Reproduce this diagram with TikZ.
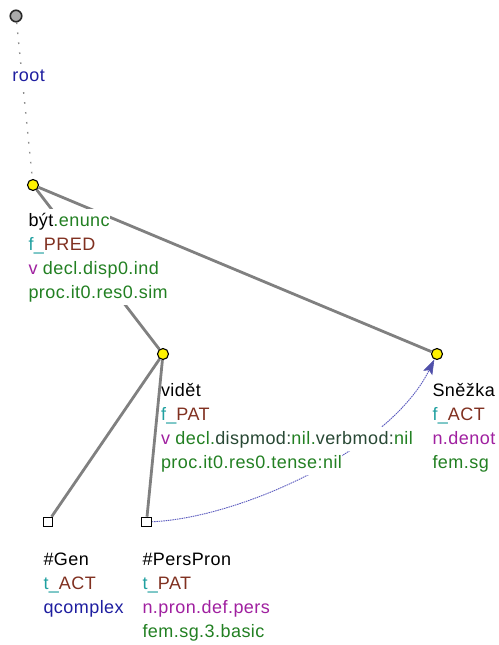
\documentclass[tikz,border=0pt]{standalone}
\usepackage{fontspec}
\setmainfont[LetterSpace=2.5]{Liberation Sans}
\usetikzlibrary{arrows.meta}
\definecolor{tgreen}{RGB}{34,128,34}
\definecolor{tteal}{RGB}{32,160,160}
\definecolor{tbrown}{RGB}{128,48,32}
\definecolor{tpurple}{RGB}{160,32,160}
\definecolor{tblue}{RGB}{30,30,160}
\definecolor{tdark}{RGB}{40,72,52}
\definecolor{tedge}{RGB}{128,128,128}
\definecolor{tarrow}{RGB}{90,90,190}
\definecolor{tarrowhead}{RGB}{80,80,170}
\pgfdeclarelayer{edges}
\pgfdeclarelayer{front}
\pgfsetlayers{edges,main,front}
\begin{document}
\begin{tikzpicture}[x=1pt,y=-1pt,
  lab/.style={anchor=base west,fill=white,inner xsep=0.3pt,inner ysep=0pt,text height=17pt,text depth=7pt,font=\fontsize{18}{21}\selectfont},
  rootnode/.style={circle,draw={rgb,255:red,40;green,40;blue,40},line width=1.6pt,fill={rgb,255:red,170;green,170;blue,170},minimum size=11.5pt,inner sep=0pt},
  tnode/.style={circle,draw=black,line width=1.1pt,fill=yellow,minimum size=11pt,inner sep=0pt},
  leaf/.style={rectangle,draw=black,line width=1.1pt,fill=white,minimum size=9.5pt,inner sep=0pt},
  tedgeline/.style={draw=tedge,line width=2.8pt},
  rootline/.style={draw={rgb,255:red,140;green,140;blue,140},line width=1.4pt,dash pattern=on 1.6pt off 8.4pt},
  corefarrow/.style={draw=tarrow,line width=0.9pt,dash pattern=on 1.5pt off 0.8pt,-{Stealth[length=15pt,width=10pt,inset=3pt,color=tarrowhead,fill=tarrowhead,line width=0.6pt]}}
]
\useasboundingbox (0,0) rectangle (498,645);

% labels
\node[lab,text=tblue] (rootl) at (12,81) {root};

\node[lab] (bytl1) at (28,226) {být\textcolor{tgreen}{.enunc}};
\node[lab] (bytl2) at (28,250) {\textcolor{tteal}{f\_}\textcolor{tbrown}{PRED}};
\node[lab] (bytl3) at (28,274) {\textcolor{tpurple}{v} \textcolor{tgreen}{decl.disp0.ind}};
\node[lab] (bytl4) at (28,298) {\textcolor{tgreen}{proc.it0.res0.sim}};

\node[lab] (vidl1) at (160.5,396) {vidět};
\node[lab] (vidl2) at (160.5,420) {\textcolor{tteal}{f\_}\textcolor{tbrown}{PAT}};
\node[lab] (vidl3) at (160.5,444) {\textcolor{tpurple}{v} \textcolor{tgreen}{decl.}\textcolor{tdark}{dispmod:}\textcolor{tgreen}{nil.}\textcolor{tdark}{verbmod:}\textcolor{tgreen}{nil}};
\node[lab] (vidl4) at (160.5,468) {\textcolor{tgreen}{proc.it0.res0.tense:nil}};

\node[lab] (snl1) at (432,396) {Sněžka};
\node[lab] (snl2) at (432,420) {\textcolor{tteal}{f\_}\textcolor{tbrown}{ACT}};
\node[lab] (snl3) at (432,444) {\textcolor{tpurple}{n.denot}};
\node[lab] (snl4) at (432,468) {\textcolor{tgreen}{fem.sg}};

\node[lab] (genl1) at (43,565) {\#Gen};
\node[lab] (genl2) at (43,589) {\textcolor{tteal}{t\_}\textcolor{tbrown}{ACT}};
\node[lab] (genl3) at (43,613) {\textcolor{tblue}{qcomplex}};

\node[lab] (ppl1) at (142,565) {\#PersPron};
\node[lab] (ppl2) at (142,589) {\textcolor{tteal}{t\_}\textcolor{tbrown}{PAT}};
\node[lab] (ppl3) at (142,613) {\textcolor{tpurple}{n.pron.def.pers}};
\node[lab] (ppl4) at (142,637) {\textcolor{tgreen}{fem.sg.3.basic}};

% tree nodes
\node[rootnode] (r) at (16,16) {};
\node[tnode] (byt) at (33,185) {};
\node[tnode] (vid) at (163,354) {};
\node[tnode] (sn) at (437,354) {};
\node[leaf] (gen) at (48,522) {};
\node[leaf] (pp) at (146.5,522) {};

\begin{pgfonlayer}{edges}
\draw[rootline] (r) -- (byt);
\draw[tedgeline] (byt) -- (vid);
\draw[tedgeline] (byt) -- (sn);
\draw[tedgeline] (vid) -- (gen);
\draw[corefarrow] (pp) .. controls (240,518) and (390,450) .. (sn);
\end{pgfonlayer}
\begin{pgfonlayer}{front}
\draw[tedgeline] (vid) -- (pp);
\end{pgfonlayer}
\end{tikzpicture}
\end{document}
